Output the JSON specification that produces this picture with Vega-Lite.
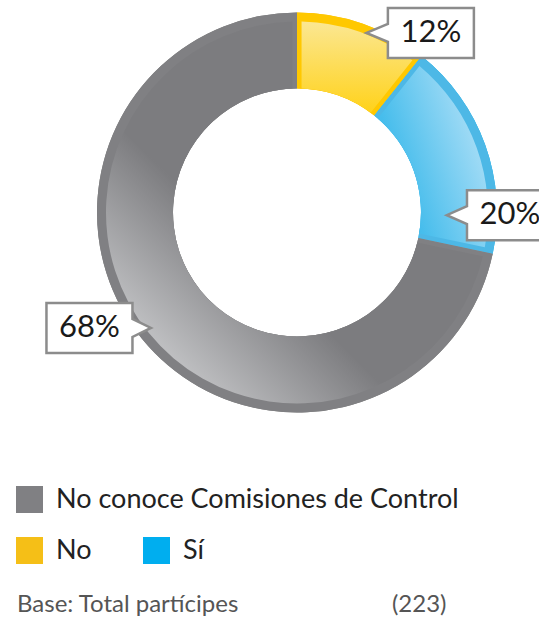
{
  "$schema": "https://vega.github.io/schema/vega-lite/v6.json",
  "width": 539,
  "height": 413,
  "autosize": {"type": "none"},
  "padding": {"left": 0, "top": 0, "right": 0, "bottom": 209},
  "background": "white",
  "config": {"view": {"stroke": null}, "font": "Lato"},
  "title": {
    "text": "Base: Total partícipes\u00a0\u00a0\u00a0\u00a0\u00a0\u00a0\u00a0\u00a0\u00a0\u00a0\u00a0\u00a0\u00a0\u00a0\u00a0\u00a0\u00a0\u00a0\u00a0\u00a0\u00a0\u00a0\u00a0\u00a0\u00a0(223)",
    "orient": "bottom",
    "anchor": "start",
    "frame": "group",
    "offset": 29,
    "dx": 17,
    "fontSize": 24,
    "font": "Lato",
    "fontWeight": "normal",
    "color": "#555555"
  },
  "data": {
    "values": [
      {"cat": "No", "arc": 10.7, "label": "12%"},
      {"cat": "Sí", "arc": 17.6, "label": "20%"},
      {"cat": "No conoce Comisiones de Control", "arc": 71.7, "label": "68%"}
    ]
  },
  "transform": [
    {"stack": "arc", "groupby": [], "as": ["start", "end"]},
    {"calculate": "(datum.start + datum.end) / 2", "as": "mid"}
  ],
  "layer": [
    {
      "mark": {"type": "arc", "outerRadius": 200, "innerRadius": 124},
      "encoding": {
        "x": {"datum": 0, "type": "quantitative", "scale": {"domain": [-297, 242], "zero": false, "nice": false}, "axis": null},
        "y": {"datum": 0, "type": "quantitative", "scale": {"domain": [-200.5, 212.5], "zero": false, "nice": false}, "axis": null},
        "theta": {"field": "start", "type": "quantitative", "scale": {"domain": [0, 100]}, "stack": null},
        "theta2": {"field": "end"},
        "fill": {
          "field": "cat", "type": "nominal",
          "scale": {"domain": ["No", "Sí", "No conoce Comisiones de Control"], "range": ["#F5BF17", "#00AEEF", "#808080"]},
          "legend": {
            "values": ["No", "Sí"], "orient": "none", "legendX": 16, "legendY": 537,
            "direction": "horizontal", "title": null, "symbolType": "square", "symbolSize": 729,
            "symbolStrokeWidth": 0, "symbolOpacity": 1, "labelFontSize": 27, "labelFont": "Lato",
            "labelColor": "#222222", "labelOffset": 13, "columnPadding": 51, "padding": 0
          }
        }
      }
    },
    {
      "mark": {"type": "arc", "outerRadius": 200, "innerRadius": 124},
      "encoding": {
        "x": {"datum": 0, "type": "quantitative"},
        "y": {"datum": 0, "type": "quantitative"},
        "theta": {"field": "start", "type": "quantitative", "stack": null},
        "theta2": {"field": "end"},
        "color": {
          "field": "cat", "type": "nominal",
          "scale": {"domain": ["No conoce Comisiones de Control", "No", "Sí"], "range": ["#808083", "#FFC800", "#4DB8E6"]},
          "legend": {
            "values": ["No conoce Comisiones de Control"], "orient": "none", "legendX": 16, "legendY": 486,
            "title": null, "symbolType": "square", "symbolSize": 729,
            "symbolStrokeWidth": 0, "symbolOpacity": 1, "labelFontSize": 27, "labelFont": "Lato",
            "labelColor": "#222222", "labelOffset": 13, "padding": 0, "labelLimit": 500
          }
        }
      }
    },
    {
      "transform": [{"filter": "datum.cat === 'No'"}],
      "mark": {
        "type": "arc", "outerRadius": 191, "innerRadius": 124, "padAngle": 0.04,
        "fill": {"gradient": "linear", "x1": 0.5, "y1": 0, "x2": 0.5, "y2": 1,
          "stops": [{"offset": 0, "color": "#fbe792"}, {"offset": 1, "color": "#ffd21a"}]}
      },
      "encoding": {
        "x": {"datum": 0, "type": "quantitative"},
        "y": {"datum": 0, "type": "quantitative"},
        "theta": {"field": "start", "type": "quantitative", "stack": null},
        "theta2": {"field": "end"}
      }
    },
    {
      "transform": [{"filter": "datum.cat === 'Sí'"}],
      "mark": {
        "type": "arc", "outerRadius": 191, "innerRadius": 124, "padAngle": 0.04,
        "fill": {"gradient": "linear", "x1": 1, "y1": 0.35, "x2": 0.3, "y2": 0.75,
          "stops": [{"offset": 0, "color": "#b0e0f7"}, {"offset": 1, "color": "#46bdec"}]}
      },
      "encoding": {
        "x": {"datum": 0, "type": "quantitative"},
        "y": {"datum": 0, "type": "quantitative"},
        "theta": {"field": "start", "type": "quantitative", "stack": null},
        "theta2": {"field": "end"}
      }
    },
    {
      "transform": [{"filter": "datum.cat === 'No conoce Comisiones de Control'"}],
      "mark": {
        "type": "arc", "outerRadius": 191, "innerRadius": 124, "padAngle": 0.04,
        "fill": {"gradient": "linear", "x1": 0, "y1": 0.88, "x2": 0.32, "y2": 0.55,
          "stops": [{"offset": 0, "color": "#d6d7d9"}, {"offset": 1, "color": "#7c7c7f"}]}
      },
      "encoding": {
        "x": {"datum": 0, "type": "quantitative"},
        "y": {"datum": 0, "type": "quantitative"},
        "theta": {"field": "start", "type": "quantitative", "stack": null},
        "theta2": {"field": "end"}
      }
    },
    {
      "transform": [
        {"calculate": "datum.cat === 'No' ? 0.3045 : datum.cat === 'Sí' ? 0.358 : 0.174", "as": "off"},
        {"calculate": "datum.cat === 'No' ? 224 : datum.cat === 'Sí' ? 213 : 237.5", "as": "lr"},
        {"calculate": "2 * PI * datum.mid / 100 + datum.off", "as": "phi"},
        {"calculate": "datum.lr * sin(datum.phi)", "as": "lx"},
        {"calculate": "datum.lr * cos(datum.phi)", "as": "ly"}
      ],
      "encoding": {
        "x": {"field": "lx", "type": "quantitative"},
        "y": {"field": "ly", "type": "quantitative"}
      },
      "layer": [
        {
          "mark": {"type": "point", "filled": true, "fill": "white", "stroke": "#8c8c8c", "strokeWidth": 2.5, "size": 7396, "opacity": 1},
          "encoding": {
            "shape": {
              "field": "cat", "type": "nominal",
              "scale": {
                "domain": ["Sí", "No", "No conoce Comisiones de Control"],
                "range": [
                  "M-1,-0.581H1V0.581H-1V0.21L-1.47,0L-1,-0.21Z",
                  "M-1,-0.581H1V0.581H-1V0.21L-1.5,0L-1,-0.21Z",
                  "M-1,-0.581H1V-0.21L1.43,0L1,0.21V0.581H-1Z"
                ]
              },
              "legend": null
            }
          }
        },
        {
          "mark": {"type": "text", "fontSize": 31, "font": "Lato", "color": "#1a1a1a", "align": "center", "baseline": "middle"},
          "encoding": {"text": {"field": "label"}}
        }
      ]
    }
  ]
}
